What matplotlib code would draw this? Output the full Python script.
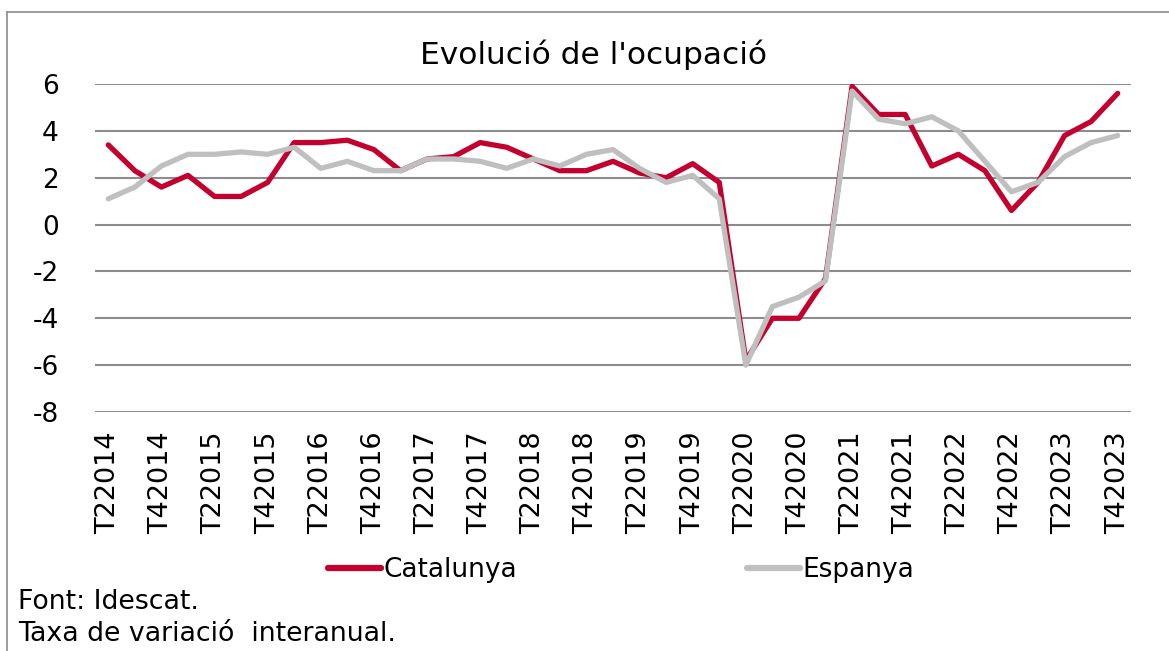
import numpy as np
import matplotlib
matplotlib.use("Agg")
import matplotlib.pyplot as plt
from matplotlib.lines import Line2D

# quarters from T2 2014 to T4 2023
quarters = [f"T{q}{y}" for y in range(2014, 2024) for q in range(1, 5)][1:]

catalunya = [3.4, 2.3, 1.6, 2.1, 1.2, 1.2, 1.8, 3.5, 3.5, 3.6, 3.2, 2.3, 2.8,
             2.9, 3.5, 3.3, 2.8, 2.3, 2.3, 2.7, 2.2, 2.0, 2.6, 1.8,
             -5.8, -4.0, -4.0, -2.3, 5.9, 4.7, 4.7,
             2.5, 3.0, 2.3, 0.6, 1.8, 3.8, 4.4, 5.6]
espanya = [1.1, 1.6, 2.5, 3.0, 3.0, 3.1, 3.0, 3.3, 2.4, 2.7, 2.3, 2.3, 2.8,
           2.8, 2.7, 2.4, 2.8, 2.5, 3.0, 3.2, 2.4, 1.8, 2.1, 1.1,
           -6.0, -3.5, -3.1, -2.4, 5.7, 4.5, 4.3,
           4.6, 4.0, 2.7, 1.4, 1.8, 2.9, 3.5, 3.8]

yticks = [-8, -6, -4, -2, 0, 2, 4, 6]

red = "#C4002F"
grey = "#BFBFBF"
fs = 19

fig = plt.figure(figsize=(11.69, 6.51), dpi=100)
ax = fig.add_axes([95 / 1169, 1 - 412 / 651, (1131 - 95) / 1169, (412 - 84) / 651])

x = np.arange(len(quarters))
ax.plot(x, catalunya, color=red, lw=3.8, solid_capstyle="round", label="Catalunya", zorder=3)
ax.plot(x, espanya, color=grey, lw=3.8, solid_capstyle="round", label="Espanya", zorder=4)

ax.set_xlim(-0.5, len(quarters) - 0.5)
ax.set_ylim(-8, 6)
ax.set_yticks(yticks)
ax.set_yticklabels([str(v) for v in yticks], fontsize=fs)
ax.set_xticks(x[::2])
ax.set_xticklabels(quarters[::2], rotation=90, fontsize=19.5)
ax.tick_params(length=0)
ax.tick_params(axis="y", pad=26)
ax.tick_params(axis="x", pad=14)
ax.grid(axis="y", color="#8C8C8C", lw=1.5)
ax.set_axisbelow(True)
for s in ax.spines.values():
    s.set_visible(False)

fig.text(593 / 1169, 1 - 55 / 651, "Evolució de l'ocupació", fontsize=22.5,
         ha="center", va="center")

handles = [Line2D([], [], color=red, lw=4.5, solid_capstyle="round"),
           Line2D([], [], color=grey, lw=4.5, solid_capstyle="round")]
fig.legend(handles, ["Catalunya", "Espanya"], loc="center",
           bbox_to_anchor=(621 / 1169, 1 - 570 / 651), ncol=2, frameon=False,
           fontsize=fs, handlelength=2.0, handletextpad=0.1, columnspacing=8.7,
           borderpad=0, borderaxespad=0)

fig.text(18 / 1169, 1 - 602 / 651, "Font: Idescat.", fontsize=19.3, ha="left", va="center")
fig.text(18 / 1169, 1 - 634 / 651, "Taxa de variació  interanual.", fontsize=19.3,
         ha="left", va="center")

# outer frame (left and top edges visible)
fig.add_artist(Line2D([7 / 1169, 7 / 1169], [0, 1 - 12 / 651], color="#8C8C8C", lw=1.2,
                      transform=fig.transFigure))
fig.add_artist(Line2D([7 / 1169, 1], [1 - 12 / 651, 1 - 12 / 651], color="#8C8C8C", lw=1.2,
                      transform=fig.transFigure))

fig.savefig("out.png", dpi=100)
